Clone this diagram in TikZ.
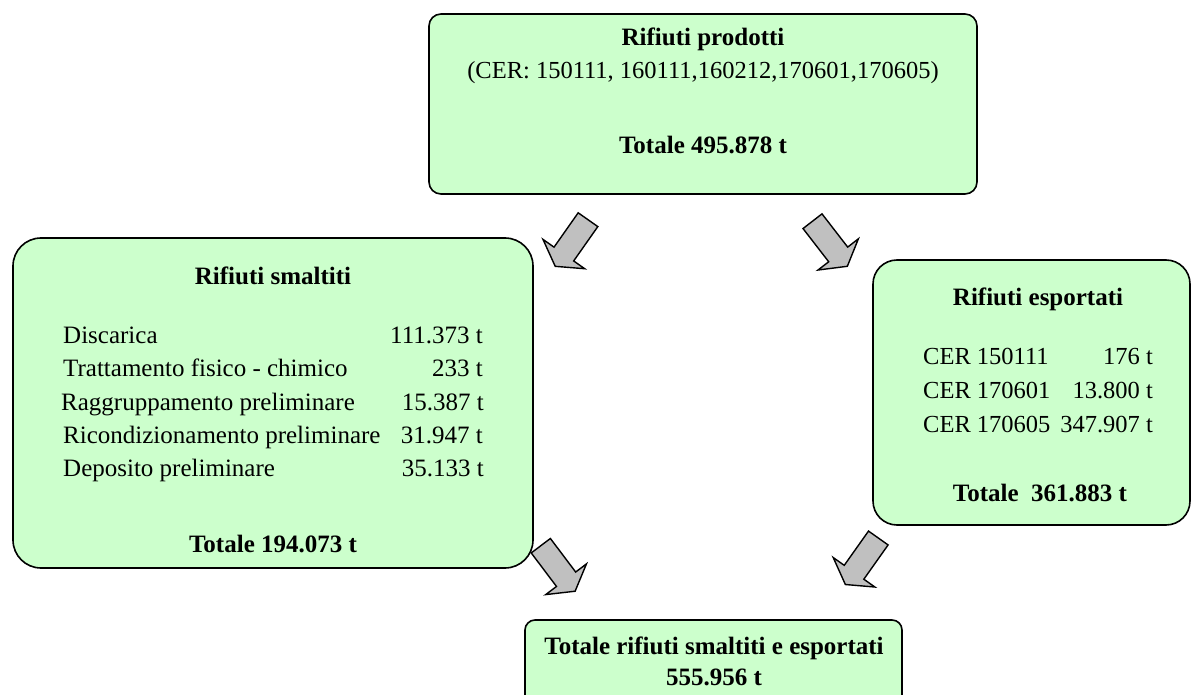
\documentclass[tikz,border=0pt]{standalone}
\usepackage{fontspec}
\setmainfont{Liberation Serif}
\definecolor{boxgreen}{HTML}{CCFFCC}
\definecolor{arrowgray}{HTML}{C0C0C0}
\begin{document}
\begin{tikzpicture}[x=1pt,y=-1pt,
  panel/.style={draw=black, line width=1.6pt, fill=boxgreen, inner sep=0pt},
  barrow/.style={draw=black, line width=1.4pt, fill=arrowgray, line join=miter},
  txt/.style={anchor=base, inner sep=0pt, font=\fontsize{24.5}{28}\selectfont},
  ltxt/.style={anchor=base, inner sep=0pt, font=\fontsize{25}{28}\selectfont},
  btxt/.style={anchor=base, inner sep=0pt, font=\fontsize{25}{30}\selectfont\bfseries},
  lt/.style={ltxt, anchor=base west},
  rt/.style={ltxt, anchor=base east},
  rlt/.style={txt, anchor=base west},
  rrt/.style={txt, anchor=base east}]
\useasboundingbox (0,0) rectangle (1191,695);
\fill[white] (0,0) rectangle (1191,695);

% boxes
\node[panel, rounded corners=12pt, minimum width=548pt, minimum height=180pt] (prod) at (703,104) {};
\node[panel, rounded corners=28pt, minimum width=520pt, minimum height=330pt] (smal) at (273,403) {};
\node[panel, rounded corners=24pt, minimum width=317pt, minimum height=265pt] (espo) at (1031.5,392.5) {};
\node[panel, rounded corners=10pt, minimum width=377pt, minimum height=100pt] (tot) at (713.5,670) {};

% top box text
\node[btxt] (prodT) at (703,46) {Rifiuti prodotti};
\node[txt] (prodC) at (703,79) {(CER: 150111, 160111,160212,170601,170605)};
\node[btxt] (prodS) at (703,154) {Totale 495.878 t};

% left box text
\node[btxt] (smalT) at (273,284) {Rifiuti smaltiti};
\node[lt] (s1) at (63,343) {Discarica};
\node[rt] (v1) at (483,343) {111.373 t};
\node[lt] (s2) at (63,376) {Trattamento fisico - chimico};
\node[rt] (v2) at (483,376) {233 t};
\node[lt] (s3) at (61,410) {Raggruppamento preliminare};
\node[rt] (v3) at (484,410) {15.387 t};
\node[lt] (s4) at (63,443) {Ricondizionamento preliminare};
\node[rt] (v4) at (483,443) {31.947 t};
\node[lt] (s5) at (63,476) {Deposito preliminare};
\node[rt] (v5) at (484,476) {35.133 t};
\node[btxt] (smalS) at (273,552) {Totale 194.073 t};

% right box text
\node[btxt] (espoT) at (1038,305) {Rifiuti esportati};
\node[rlt] (e1) at (923,364) {CER 150111};
\node[rrt] (w1) at (1153,364) {176 t};
\node[rlt] (e2) at (923,398) {CER 170601};
\node[rrt] (w2) at (1153,398) {13.800 t};
\node[rlt] (e3) at (923,432) {CER 170605};
\node[rrt] (w3) at (1153,432) {347.907 t};
\node[btxt] (espoS) at (1040,501) {Totale\ \ 361.883 t};

% bottom box text
\node[btxt] (totA) at (714,654) {Totale rifiuti smaltiti e esportati};
\node[btxt] (totB) at (714,685) {555.956 t};

% block arrows
\foreach \px/\py/\ang in {588/219.7/234.9, 812.5/221.2/-52.3, 540.8/545.7/-53, 878.3/538/234.7}{
  \draw[barrow, shift={(\px,\py)}, rotate=\ang]
    (0,-12) -- (42,-12) -- (42,-25.5) -- (57,0) -- (42,25.5) -- (42,12) -- (0,12) -- cycle;
}
\end{tikzpicture}
\end{document}
